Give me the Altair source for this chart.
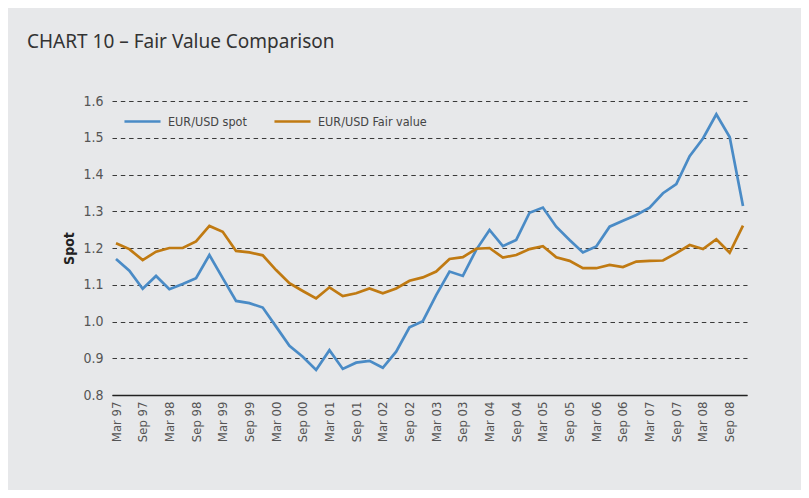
import altair as alt
import pandas as pd

quarters = [
    "Mar 97", "Jun 97", "Sep 97", "Dec 97", "Mar 98", "Jun 98", "Sep 98", "Dec 98",
    "Mar 99", "Jun 99", "Sep 99", "Dec 99", "Mar 00", "Jun 00", "Sep 00", "Dec 00",
    "Mar 01", "Jun 01", "Sep 01", "Dec 01", "Mar 02", "Jun 02", "Sep 02", "Dec 02",
    "Mar 03", "Jun 03", "Sep 03", "Dec 03", "Mar 04", "Jun 04", "Sep 04", "Dec 04",
    "Mar 05", "Jun 05", "Sep 05", "Dec 05", "Mar 06", "Jun 06", "Sep 06", "Dec 06",
    "Mar 07", "Jun 07", "Sep 07", "Dec 07", "Mar 08", "Jun 08", "Sep 08", "Dec 08",
]

tick_labels = [
    "Mar 97", "Sep 97", "Mar 98", "Sep 98", "Mar 99", "Sep 99", "Mar 00", "Sep 00",
    "Mar 01", "Sep 01", "Mar 02", "Sep 02", "Mar 03", "Sep 03", "Mar 04", "Sep 04",
    "Mar 05", "Sep 05", "Mar 06", "Sep 06", "Mar 07", "Sep 07", "Mar 08", "Sep 08",
]

spot = [
    1.170, 1.138, 1.089, 1.124, 1.088, 1.102, 1.118, 1.181,
    1.118, 1.056, 1.050, 1.038, 0.986, 0.934, 0.904, 0.868,
    0.922, 0.871, 0.888, 0.893, 0.874, 0.918, 0.984, 1.001,
    1.072, 1.136, 1.124, 1.195, 1.249, 1.205, 1.222, 1.296,
    1.310, 1.258, 1.222, 1.188, 1.204, 1.258, 1.274, 1.290,
    1.310, 1.349, 1.374, 1.450, 1.498, 1.564, 1.502, 1.314,
]

fair = [
    1.213, 1.197, 1.167, 1.190, 1.200, 1.200, 1.218, 1.260,
    1.244, 1.192, 1.188, 1.180, 1.140, 1.104, 1.083, 1.063,
    1.093, 1.069, 1.077, 1.090, 1.077, 1.090, 1.111, 1.120,
    1.136, 1.170, 1.175, 1.198, 1.200, 1.174, 1.181, 1.197,
    1.205, 1.175, 1.165, 1.145, 1.145, 1.154, 1.148, 1.163,
    1.165, 1.166, 1.186, 1.208, 1.197, 1.224, 1.187, 1.261,
]

series_names = ["EUR/USD spot", "EUR/USD Fair value"]
series_colors = ["#4a8bc6", "#c07a12"]
y_ticks = [0.8, 0.9, 1.0, 1.1, 1.2, 1.3, 1.4, 1.5, 1.6]

df = pd.DataFrame({
    "quarter": quarters + quarters,
    "value": spot + fair,
    "series": [series_names[0]] * len(spot) + [series_names[1]] * len(fair),
})

NARROW = "Liberation Sans Narrow, DejaVu Sans Condensed, Roboto Condensed, Arial Narrow, sans-serif"

chart = alt.Chart(df).mark_line(strokeWidth=2.7).encode(
    x=alt.X(
        "quarter:O",
        sort=quarters,
        scale=alt.Scale(type="point", padding=0.3),
        axis=alt.Axis(
            values=tick_labels,
            labelAngle=270,
            title=None,
            ticks=False,
            grid=False,
            domainColor="#222222",
            domainWidth=1.5,
            labelFont=NARROW,
            labelFontSize=13,
            labelColor="#555555",
            labelPadding=6,
        ),
    ),
    y=alt.Y(
        "value:Q",
        scale=alt.Scale(domain=[0.8, 1.6], nice=False, zero=False),
        axis=alt.Axis(
            values=y_ticks,
            format=".1f",
            title="Spot",
            titleFont=NARROW,
            titleFontSize=14,
            titleFontWeight="bold",
            titleColor="#222222",
            titlePadding=6,
            domain=False,
            ticks=False,
            grid=True,
            gridColor="#3a3a3a",
            gridDash=[4.5, 3.8],
            gridWidth=1,
            labelFont=NARROW,
            labelFontSize=14,
            labelColor="#555555",
            labelPadding=9,
        ),
    ),
    color=alt.Color(
        "series:N",
        sort=series_names,
        scale=alt.Scale(domain=series_names, range=series_colors),
        legend=alt.Legend(
            title=None,
            orient="none",
            legendX=11,
            legendY=1,
            direction="horizontal",
            symbolType="stroke",
            symbolSize=1300,
            symbolStrokeWidth=2.7,
            labelFont=NARROW,
            labelFontSize=12.5,
            labelColor="#444444",
            labelOffset=6,
            columnPadding=22,
        ),
    ),
).properties(
    width=635,
    height=294,
    autosize=alt.AutoSizeParams(type="none"),
    padding={"left": 104, "top": 93, "right": 54, "bottom": 95},
    title=alt.TitleParams(
        "CHART 10 – Fair Value Comparison",
        anchor="start",
        frame="group",
        dx=-85,
        offset=42,
        font="Noto Sans",
        fontSize=19,
        fontWeight="normal",
        color="#333333",
    ),
).configure(
    background="#e7e8ea",
).configure_view(
    stroke=None,
)

chart.save("out.html", embed_options={"renderer": "svg", "actions": False})
